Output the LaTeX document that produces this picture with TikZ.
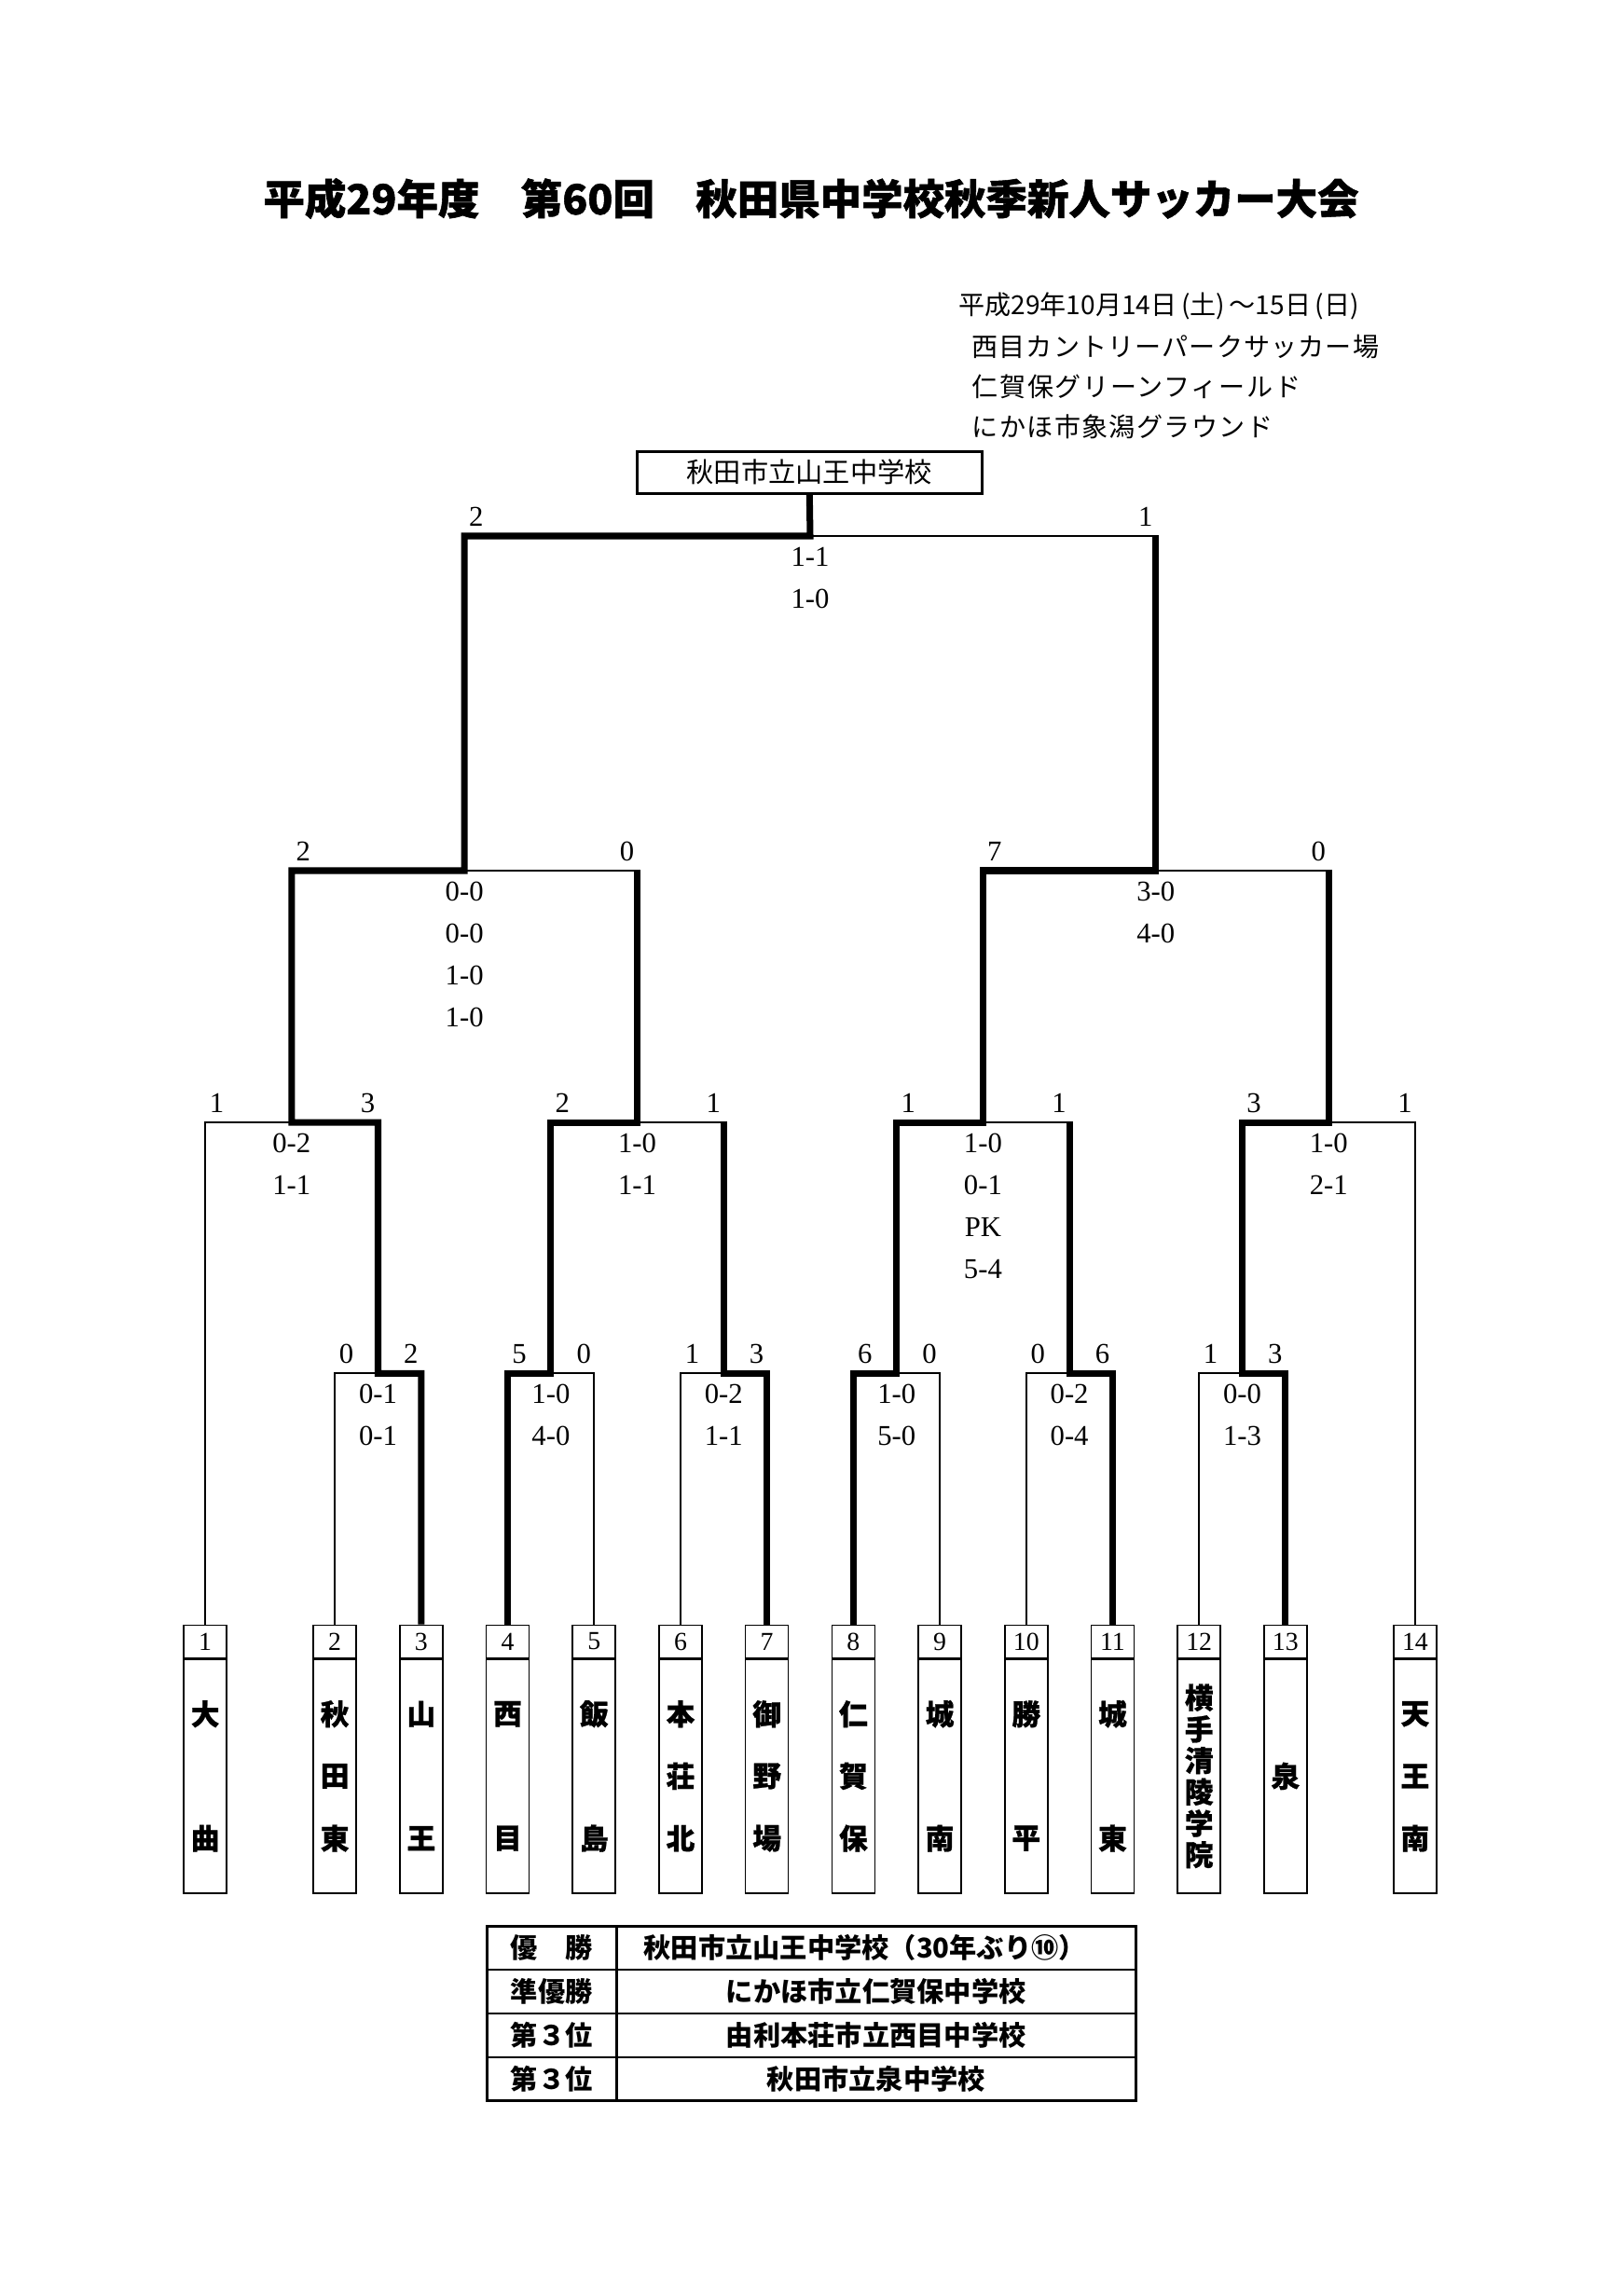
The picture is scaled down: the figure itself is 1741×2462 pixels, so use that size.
\documentclass[tikz,border=0pt]{standalone}
\usepackage{fontspec}
\setmainfont{Liberation Serif}
\newfontfamily\jp{Noto Sans CJK JP}
\usetikzlibrary{calc}
\def\px{*0.34195pt}
\newcommand\nametwo[3]{%
  \node[tch] (n#1a) at ($(c#1.center)+(0,-66.7)$) {#2};
  \node[tch] (n#1b) at ($(c#1.center)+(0,66.7)$) {#3};}
\newcommand\namethree[4]{%
  \node[tch] (n#1a) at ($(c#1.center)+(0,-66.7)$) {#2};
  \node[tch] (n#1b) at (c#1.center) {#3};
  \node[tch] (n#1c) at ($(c#1.center)+(0,66.7)$) {#4};}
\begin{document}
\begin{tikzpicture}[x=0.34195pt,y=-0.34195pt,
  thinln/.style={line width=0.7pt},
  thickln/.style={line width=2.4pt,line join=miter},
  lbl/.style={font=\fontsize{10.5}{12}\selectfont,inner sep=0pt},
  teamnum/.style={draw,line width=0.55pt,minimum width=46\px,minimum height=35\px,inner sep=0pt,anchor=north,font=\fontsize{9.5}{11}\selectfont},
  teamcell/.style={draw,line width=0.55pt,minimum width=46\px,minimum height=250.6\px,inner sep=0pt,anchor=north},
  tch/.style={font=\jp\bfseries\addfontfeature{FakeBold=0.8}\fontsize{10.5}{12}\selectfont,inner sep=0pt},
  mj/.style={font=\jp\fontsize{9.6}{11}\selectfont,inner sep=0pt,anchor=west},
  tcell/.style={draw,line width=0.9pt,inner sep=0pt,anchor=north west,minimum height=46.83\px},
  ttxt/.style={font=\jp\bfseries\fontsize{10}{12}\selectfont,inner sep=0pt}]
\fill[white] (0,0) rectangle (1741,2462);
\useasboundingbox (0,0) rectangle (1741,2462);

% title
\node[inner sep=0pt] (title) at (870,213) {\jp\bfseries\addfontfeature{FakeBold=1.2}\fontsize{15.2}{18}\selectfont 平成29年度　第60回　秋田県中学校秋季新人サッカー大会};

% info block
\node[mj] (info1) at (1028,328) {{\jp 平成}29{\jp 年}10{\jp 月}14{\jp 日}\,({\jp 土})\,{\jp ～}15{\jp 日}\,({\jp 日})};
\node[mj] (info2) at (1042,372) {\addfontfeature{LetterSpace=4}西目カントリーパークサッカー場};
\node[mj] (info3) at (1042,415) {\addfontfeature{LetterSpace=6}仁賀保グリーンフィールド};
\node[mj] (info4) at (1042,458) {\addfontfeature{LetterSpace=5}にかほ市象潟グラウンド};

% champion box
\node[draw,line width=1.1pt,minimum width=370\px,minimum height=45\px,inner sep=0pt,font=\jp\fontsize{10}{12}\selectfont] (champ) at (868.3,506.8) {秋田市立山王中学校};

% team boxes
\foreach \i/\x in {1/220.1,2/359.15,3/451.85,4/544.55,5/637.25,6/729.95,7/822.65,8/915.35,9/1008.05,10/1100.75,11/1193.45,12/1286.15,13/1378.85,14/1517.9}{
  \node[teamnum] (t\i) at (\x,1742.7) {\i};
  \node[teamcell] (c\i) at (t\i.south) {};
}
\nametwo{1}{大}{曲}
\namethree{2}{秋}{田}{東}
\nametwo{3}{山}{王}
\nametwo{4}{西}{目}
\nametwo{5}{飯}{島}
\namethree{6}{本}{荘}{北}
\namethree{7}{御}{野}{場}
\namethree{8}{仁}{賀}{保}
\nametwo{9}{城}{南}
\nametwo{10}{勝}{平}
\nametwo{11}{城}{東}
\node[tch] (n12a) at ($(c12.center)+(0,-84.25)$) {横};
\node[tch] (n12b) at ($(c12.center)+(0,-50.55)$) {手};
\node[tch] (n12c) at ($(c12.center)+(0,-16.85)$) {清};
\node[tch] (n12d) at ($(c12.center)+(0,16.85)$) {陵};
\node[tch] (n12e) at ($(c12.center)+(0,50.55)$) {学};
\node[tch] (n12f) at ($(c12.center)+(0,84.25)$) {院};
\node[tch] (n13a) at (c13.center) {泉};
\namethree{14}{天}{王}{南}

% bracket joints
\coordinate (m23) at (405.5,1473.3);
\coordinate (m45) at (590.9,1473.3);
\coordinate (m67) at (776.3,1473.3);
\coordinate (m89) at (961.7,1473.3);
\coordinate (m1011) at (1147.1,1473.3);
\coordinate (m1213) at (1332.5,1473.3);
\coordinate (qf1) at (312.8,1204);
\coordinate (qf2) at (683.6,1204);
\coordinate (qf3) at (1054.4,1204);
\coordinate (qf4) at (1425.2,1204);
\coordinate (sf1) at (498.2,934);
\coordinate (sf2) at (1239.8,934);
\coordinate (fin) at (869,575);

% thin lines (losers)
\draw[thinln] (t1.north) |- (qf1);
\draw[thinln] (t14.north) |- (qf4);
\draw[thinln] (t2.north) |- (m23);
\draw[thinln] (t5.north) |- (m45);
\draw[thinln] (t6.north) |- (m67);
\draw[thinln] (t9.north) |- (m89);
\draw[thinln] (t10.north) |- (m1011);
\draw[thinln] (t12.north) |- (m1213);
\draw[thinln] (m67|-qf2) -- (qf2);
\draw[thinln] (m1011|-qf3) -- (qf3);
\draw[thinln] (qf2|-sf1) -- (sf1);
\draw[thinln] (qf4|-sf2) -- (sf2);
\draw[thinln] (sf2|-fin) -- (fin);

% thick lines (winners)
\draw[thickln] (t3.north) |- (m23) |- (qf1) |- (sf1) |- (fin) -- (champ.south);
\draw[thickln,shorten >=-0.35pt] (t8.north) |- (m89) |- (qf3) |- (sf2) -- (sf2|-fin);
\draw[thickln,shorten >=-0.35pt] (t4.north) |- (m45) |- (qf2) -- (qf2|-sf1);
\draw[thickln,shorten >=-0.35pt] (t13.north) |- (m1213) |- (qf4) -- (qf4|-sf2);
\draw[thickln,shorten >=-0.35pt] (t7.north) |- (m67) -- (m67|-qf2);
\draw[thickln,shorten >=-0.35pt] (t11.north) |- (m1011) -- (m1011|-qf3);

% side scores
\foreach \x/\y/\t [count=\k] in {
  510.7/554.5/2, 1228.8/554.5/1,
  325.3/913.5/2, 672.6/913.5/0, 1066.9/913.5/7, 1414.2/913.5/0,
  232.6/1183.5/1, 394.5/1183.5/3, 603.4/1183.5/2, 765.3/1183.5/1,
  974.2/1183.5/1, 1136.1/1183.5/1, 1345/1183.5/3, 1506.9/1183.5/1,
  371.65/1452.8/0, 440.85/1452.8/2, 557.05/1452.8/5, 626.25/1452.8/0,
  742.45/1452.8/1, 811.65/1452.8/3, 927.85/1452.8/6, 997.05/1452.8/0,
  1113.25/1452.8/0, 1182.45/1452.8/6, 1298.65/1452.8/1, 1367.85/1452.8/3}
  \node[lbl] (lb\k) at (\x,\y) {\t};

% half scores
\foreach \x/\y/\t [count=\k] in {
  869/597.5/1-1, 869/642.5/1-0,
  498.2/956.5/0-0, 498.2/1001.5/0-0, 498.2/1046.5/1-0, 498.2/1091.5/1-0,
  1239.8/956.5/3-0, 1239.8/1001.5/4-0,
  312.8/1226.5/0-2, 312.8/1271.5/1-1,
  683.6/1226.5/1-0, 683.6/1271.5/1-1,
  1054.4/1226.5/1-0, 1054.4/1271.5/0-1, 1054.4/1316.5/PK, 1054.4/1361.5/5-4,
  1425.2/1226.5/1-0, 1425.2/1271.5/2-1,
  405.5/1495.8/0-1, 405.5/1540.8/0-1,
  590.9/1495.8/1-0, 590.9/1540.8/4-0,
  776.3/1495.8/0-2, 776.3/1540.8/1-1,
  961.7/1495.8/1-0, 961.7/1540.8/5-0,
  1147.1/1495.8/0-2, 1147.1/1540.8/0-4,
  1332.5/1495.8/0-0, 1332.5/1540.8/1-3}
  \node[lbl] (sc\k) at (\x,\y) {\t};

% result table
\foreach \r/\y in {1/2065,2/2111.83,3/2158.66,4/2205.49}{
  \node[tcell,minimum width=139\px] (ta\r) at (521,\y) {};
  \node[tcell,minimum width=557\px] (tb\r) at (660,\y) {};
}
\node[ttxt] (ka1) at (ta1.center) {優　勝};
\node[ttxt] (ka2) at (ta2.center) {準優勝};
\node[ttxt] (ka3) at (ta3.center) {第３位};
\node[ttxt] (ka4) at (ta4.center) {第３位};
\node[ttxt] (kb1) at ($(tb1.center)+(-12,0)$) {秋田市立山王中学校（30年ぶり⑩）};
\node[ttxt] (kb2) at (tb2.center) {にかほ市立仁賀保中学校};
\node[ttxt] (kb3) at (tb3.center) {由利本荘市立西目中学校};
\node[ttxt] (kb4) at (tb4.center) {秋田市立泉中学校};
\end{tikzpicture}
\end{document}
